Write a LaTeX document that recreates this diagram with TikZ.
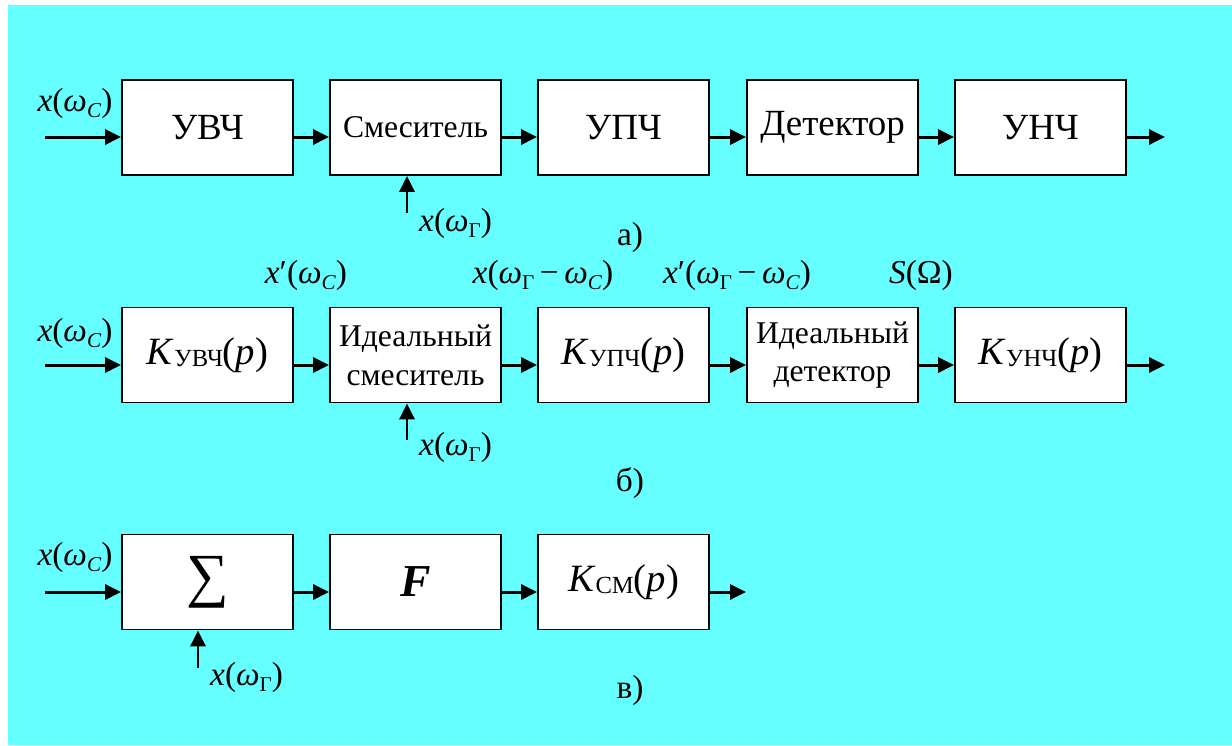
\documentclass[tikz,border=0pt]{standalone}
\usepackage{fontspec}
\setmainfont{Liberation Serif}
\usetikzlibrary{arrows.meta}
\definecolor{bgcyan}{HTML}{66FFFF}
\newcommand{\fs}[1]{\fontsize{#1}{#1}\selectfont}
\newcommand{\lowsub}[1]{\raisebox{-3.5pt}{\fs{12}#1}}
\newcommand{\wC}{\textit{ω}\lowsub{\textit{C}}}
\newcommand{\wG}{\textit{ω}\lowsub{Г}}
\newcommand{\Kf}[1]{\textit{K}\raisebox{-1.5pt}{\fs{14}#1}(\textit{p})}
\tikzset{
  blk/.style={draw, line width=1.1pt, fill=white, minimum width=3.42cm,
    minimum height=1.9cm, inner sep=0pt, align=center},
  sig/.style={line width=1.7pt, -{Triangle[length=9pt,width=8.5pt]}},
  lbl/.style={font=\fs{19}},
}
\begin{document}
\begin{tikzpicture}[x=0.02cm, y=-0.02cm]
  % Background
  \useasboundingbox (0,0) rectangle (1232,745);
  \fill[bgcyan] (8,5) rectangle (1232,745);
  % Row a
  \coordinate (ra) at (0,137);
  \node[blk, font=\fs{21}] (a1) at (207.5,127.5) {УВЧ};
  \node[blk, font=\fs{18}] (a2) at (415.5,127.5) {Смеситель};
  \node[blk, font=\fs{21}] (a3) at (623.5,127.5) {УПЧ};
  \node[blk, font=\fs{21}] (a4) at (832.5,127.5) {Детектор};
  \node[blk, font=\fs{21}] (a5) at (1040.5,127.5) {УНЧ};
  \coordinate (ina) at (45,137);
  \coordinate (outa) at (1165,137);
  \coordinate (ga) at (407,213);
  \draw[sig] (ina) -- (a1.west |- ra);
  \foreach \i/\j in {1/2,2/3,3/4,4/5}
    \draw[sig] (a\i.east |- ra) -- (a\j.west |- ra);
  \draw[sig] (a5.east |- ra) -- (outa);
  \draw[sig] (ga) -- (ga |- a2.south);
  \node[lbl] (xa) at (75,103) {\textit{x}(\wC)};
  \node[lbl, anchor=west] (xga) at (413,223) {\textit{x}(\wG)};
  \node[lbl] (capa) at (630,237) {а)};
  % Row b
  \coordinate (rb) at (0,365);
  \node[blk, font=\fs{22}] (b1) at (207.5,355) {\Kf{УВЧ}};
  \node[blk, font=\fontsize{18}{22}\selectfont] (b2) at (415.5,355) {Идеальный\\смеситель};
  \node[blk, font=\fs{22}] (b3) at (623.5,355) {\Kf{УПЧ}};
  \node[blk, font=\fontsize{18}{22}\selectfont] (b4) at (832.5,355) {Идеальный\\детектор};
  \node[blk, font=\fs{22}] (b5) at (1040.5,355) {\Kf{УНЧ}};
  \coordinate (inb) at (45,365);
  \coordinate (outb) at (1165,365);
  \coordinate (gb) at (407,440);
  \draw[sig] (inb) -- (b1.west |- rb);
  \foreach \i/\j in {1/2,2/3,3/4,4/5}
    \draw[sig] (b\i.east |- rb) -- (b\j.west |- rb);
  \draw[sig] (b5.east |- rb) -- (outb);
  \draw[sig] (gb) -- (gb |- b2.south);
  \node[lbl] (xb) at (75,333) {\textit{x}(\wC)};
  \node[lbl, anchor=west] (xgb) at (413,447) {\textit{x}(\wG)};
  \node[lbl] (sb1) at (306,275) {\textit{x}′(\wC)};
  \node[lbl] (sb2) at (543,275) {\textit{x}(\wG\,−\,\wC)};
  \node[lbl] (sb3) at (737,275) {\textit{x}′(\wG\,−\,\wC)};
  \node[lbl] (sb4) at (921,275) {\textit{S}(Ω)};
  \node[lbl] (capb) at (630,483) {б)};
  % Row c
  \coordinate (rc) at (0,592);
  \node[blk, font=\fs{34}] (c1) at (207.5,582) {∑};
  \node[blk, font=\fs{26}\bfseries\itshape] (c2) at (415.5,582) {F};
  \node[blk, font=\fs{22}] (c3) at (623.5,582) {\Kf{СМ}};
  \coordinate (inc) at (45,592);
  \coordinate (outc) at (746,592);
  \coordinate (gc) at (198,668);
  \draw[sig] (inc) -- (c1.west |- rc);
  \foreach \i/\j in {1/2,2/3}
    \draw[sig] (c\i.east |- rc) -- (c\j.west |- rc);
  \draw[sig] (c3.east |- rc) -- (outc);
  \draw[sig] (gc) -- (gc |- c1.south);
  \node[lbl] (xc) at (75,557) {\textit{x}(\wC)};
  \node[lbl, anchor=west] (xgc) at (204,677) {\textit{x}(\wG)};
  \node[lbl] (capc) at (630,690) {в)};
\end{tikzpicture}
\end{document}
